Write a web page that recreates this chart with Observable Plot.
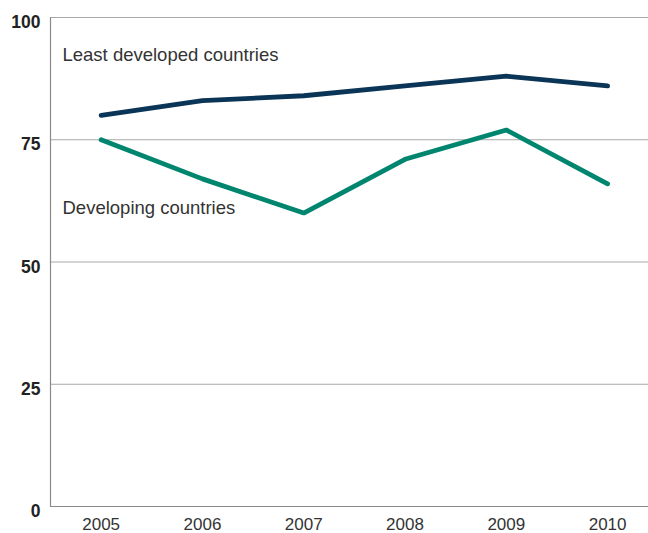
<!DOCTYPE html>
<html>
<head>
<meta charset="utf-8">
<script src="https://cdn.jsdelivr.net/npm/d3@7"></script>
<script src="https://cdn.jsdelivr.net/npm/@observablehq/plot@0.6"></script>
<style>
  html, body { margin: 0; padding: 0; background: #fff; }
  svg { display: block; }
</style>
</head>
<body>
<div id="chart"></div>
<script>
const years = [2005, 2006, 2007, 2008, 2009, 2010];
const leastDeveloped = [80, 83, 84, 86, 88, 86];
const developing = [75, 67, 60, 71, 77, 66];
const yTicks = [0, 25, 50, 75, 100];
const seriesNames = ["Least developed countries", "Developing countries"];
const seriesColors = ["#0b3556", "#00866f"];

const rows = [
  ...years.map((y, i) => ({year: y, value: leastDeveloped[i], series: seriesNames[0]})),
  ...years.map((y, i) => ({year: y, value: developing[i], series: seriesNames[1]}))
];

const chart = Plot.plot({
  width: 648,
  height: 533,
  marginLeft: 50,
  marginRight: 0,
  marginTop: 17,
  marginBottom: 27,
  style: {fontFamily: "'Liberation Sans', Arial, sans-serif", background: "#fff"},
  x: {domain: [2004.5, 2010.404], axis: null},
  y: {domain: [0, 100], axis: null},
  color: {domain: seriesNames, range: seriesColors},
  marks: [
    Plot.ruleY(yTicks.filter(d => d > 0), {stroke: "#a8a8a8", strokeWidth: 1}),
    Plot.ruleY([0], {stroke: "#8a8a8a", strokeWidth: 1.2}),
    Plot.ruleX([2004.5], {y1: 0, y2: 100, stroke: "#8a8a8a", strokeWidth: 1.2}),
    Plot.text(yTicks, {x: 2004.5, y: d => d, text: d => String(d), textAnchor: "end", dx: -10, dy: 5,
      fontSize: 17.5, fontWeight: "bold", fill: "#222"}),
    Plot.text(years, {x: d => d, y: 0, text: d => String(d), dy: 18, fontSize: 17, fill: "#333"}),
    Plot.line(rows, {x: "year", y: "value", z: "series", stroke: "series", strokeWidth: 4.8,
      strokeLinejoin: "miter", strokeLinecap: "round"}),
    Plot.text([seriesNames[0]], {frameAnchor: "top-left", text: d => d, dx: 12, dy: 30,
      textAnchor: "start", fontSize: 18.5, fill: "#333"}),
    Plot.text([seriesNames[1]], {frameAnchor: "top-left", text: d => d, dx: 12, dy: 183,
      textAnchor: "start", fontSize: 18.5, fill: "#333"})
  ]
});
document.getElementById("chart").appendChild(chart);
</script>
</body>
</html>
